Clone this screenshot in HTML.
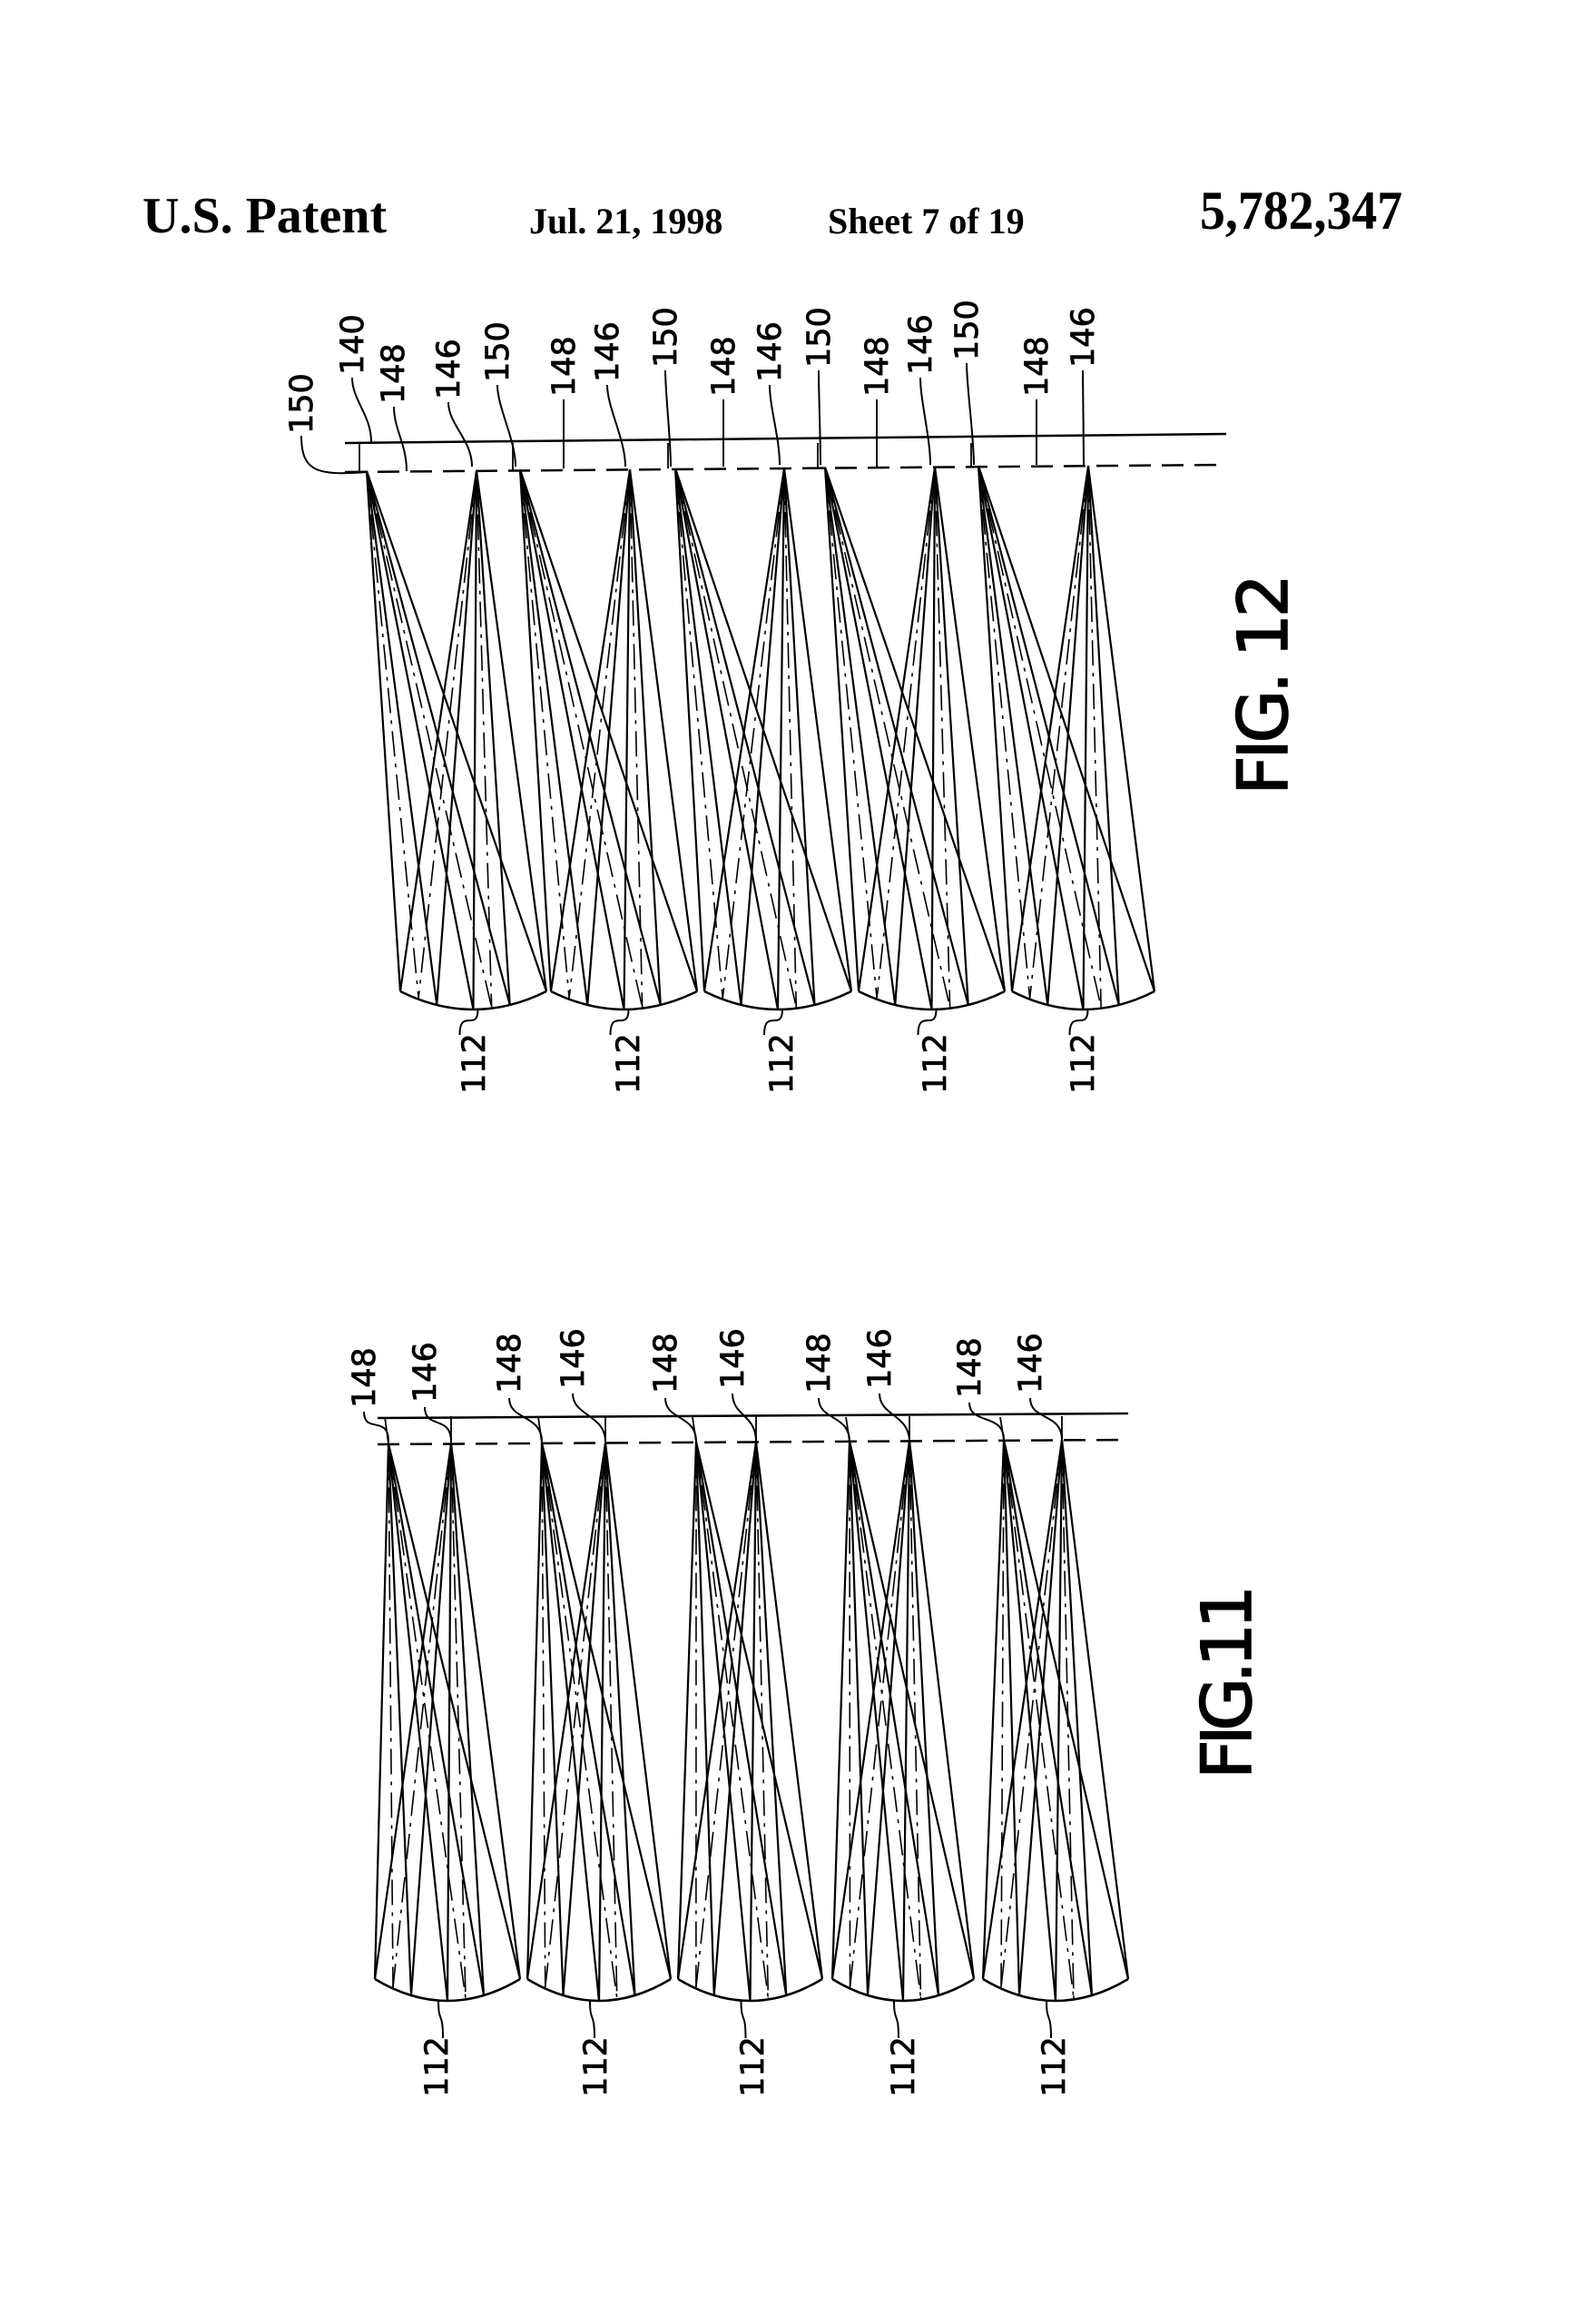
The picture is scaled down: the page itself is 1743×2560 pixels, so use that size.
<!DOCTYPE html>
<html><head><meta charset="utf-8"><style>
html,body{margin:0;padding:0;background:#fff}
body{width:1743px;height:2560px;position:relative;overflow:hidden}
.h{position:absolute;font-family:"Liberation Serif",serif;font-weight:bold;color:#000;white-space:nowrap;transform-origin:0 0}
svg{position:absolute;left:0;top:0}
svg text{font-family:"DejaVu Sans","Liberation Sans",sans-serif;fill:#000}
</style></head><body>
<div class="h" style="left:157px;top:206px;font-size:56px;transform:scaleX(1.0)">U.S. Patent</div>
<div class="h" style="left:583px;top:220px;font-size:40px;transform:scaleX(1.0)">Jul. 21, 1998</div>
<div class="h" style="left:912px;top:220px;font-size:40px;transform:scaleX(1.0)">Sheet 7 of 19</div>
<div class="h" style="left:1322px;top:198px;font-size:60px;transform:scaleX(0.93)">5,782,347</div>
<svg id="s" width="1743" height="2560" viewBox="0 0 1743 2560">
<g font-size="35" stroke="#000" stroke-width="0.8">
<text transform="translate(400,413) rotate(-90)">140</text>
<text transform="translate(445,445) rotate(-90)">148</text>
<text transform="translate(506,440) rotate(-90)">146</text>
<text transform="translate(560,421) rotate(-90)">150</text>
<text transform="translate(633,437) rotate(-90)">148</text>
<text transform="translate(681,421) rotate(-90)">146</text>
<text transform="translate(745,405) rotate(-90)">150</text>
<text transform="translate(809,437) rotate(-90)">148</text>
<text transform="translate(860,421) rotate(-90)">146</text>
<text transform="translate(914,405) rotate(-90)">150</text>
<text transform="translate(978,437) rotate(-90)">148</text>
<text transform="translate(1026,413) rotate(-90)">146</text>
<text transform="translate(1077,397) rotate(-90)">150</text>
<text transform="translate(1154,437) rotate(-90)">148</text>
<text transform="translate(1205,405) rotate(-90)">146</text>
<text transform="translate(344,478) rotate(-90)">150</text>
<text transform="translate(534,1205) rotate(-90)">112</text>
<text transform="translate(704,1205) rotate(-90)">112</text>
<text transform="translate(873,1205) rotate(-90)">112</text>
<text transform="translate(1042,1205) rotate(-90)">112</text>
<text transform="translate(1205,1205) rotate(-90)">112</text>
<text transform="translate(413,1551) rotate(-90)">148</text>
<text transform="translate(480,1545) rotate(-90)">146</text>
<text transform="translate(573,1535) rotate(-90)">148</text>
<text transform="translate(643,1530) rotate(-90)">146</text>
<text transform="translate(745,1535) rotate(-90)">148</text>
<text transform="translate(819,1530) rotate(-90)">146</text>
<text transform="translate(914,1535) rotate(-90)">148</text>
<text transform="translate(981,1530) rotate(-90)">146</text>
<text transform="translate(1080,1540) rotate(-90)">148</text>
<text transform="translate(1147,1535) rotate(-90)">146</text>
<text transform="translate(493,2310) rotate(-90)">112</text>
<text transform="translate(668,2310) rotate(-90)">112</text>
<text transform="translate(841,2310) rotate(-90)">112</text>
<text transform="translate(1007,2310) rotate(-90)">112</text>
<text transform="translate(1173,2310) rotate(-90)">112</text>
<text font-size="76" stroke-width="1.5" transform="translate(1418,876) rotate(-90)" textLength="244">FIG. 12</text>
<text font-size="76" stroke-width="1.5" transform="translate(1378,1960) rotate(-90)" textLength="214">FIG.11</text>
</g>
<g id="g" stroke="#000" fill="none" stroke-width="2.2" transform="translate(5,0)"></g>
</svg>
<script>
var g=document.getElementById('g');
function L(x1,y1,x2,y2,d,w){var e=document.createElementNS('http://www.w3.org/2000/svg','line');e.setAttribute('x1',x1);e.setAttribute('y1',y1);e.setAttribute('x2',x2);e.setAttribute('y2',y2);if(d)e.setAttribute('stroke-dasharray',d);if(w)e.setAttribute('stroke-width',w);g.appendChild(e);}
function P(d,w){var e=document.createElementNS('http://www.w3.org/2000/svg','path');e.setAttribute('d',d);if(w)e.setAttribute('stroke-width',w);g.appendChild(e);}
var DD='28 8 4 8';
function lens(xl,xr,yt,yb,srcs){
  P('M'+xl+' '+yt+' Q'+((xl+xr)/2)+' '+(2*yb-yt)+' '+xr+' '+yt,2.5);
  var pts=[];
  for(var i=0;i<=4;i++){var t=i/4;var x=(1-t)*(1-t)*xl+2*t*(1-t)*(xl+xr)/2+t*t*xr;var y=(1-t)*(1-t)*yt+2*t*(1-t)*(2*yb-yt)+t*t*yt;pts.push([x,y]);}
  srcs.forEach(function(s){
    pts.forEach(function(p){L(s[0],s[1],p[0],p[1]);});
    for(var i=0;i<4;i+=2){var a=pts[i],b=pts[i+1];L(s[0],s[1],(a[0]+b[0])/2,(a[1]+b[1])/2,DD,1.6);}
  });
}
function leader(x1,y1,x2,y2){P('M'+x1+' '+y1+' C'+x1+' '+(y1+25)+' '+x2+' '+(y2-30)+' '+x2+' '+y2,2);}
// FIG 12
L(375,488,1346,478,null,2.5);
L(375,520,1346,512,'24 12',2.5);
var f12L=[[436,597],[602,763],[771,933],[941,1102],[1110,1267]];
var s150=[399,568,739,904,1073], s146=[520,689,859,1025,1194];
for(var i=0;i<5;i++){
  var yd=520-(s146[i]-375)*8/971;
  lens(f12L[i][0],f12L[i][1],1092,1112,[[s150[i],yd],[s146[i],yd]]);
  L(s150[i]-8,488,s150[i]-8,yd,null,1.8);
  var c=(f12L[i][0]+f12L[i][1])/2;
  leader(c+5,1112,c-15,1140);
}
[[383,416,404,487],[429,448,443,519],[489,443,515,514],[543,424,563,514],[616,440,616,516],[664,424,684,514],[728,408,734,514],[792,440,792,514],[843,424,854,512],[897,408,899,512],[961,440,961,514],[1009,416,1020,512],[1060,400,1068,512],[1137,440,1137,512],[1188,408,1189,512]].forEach(function(a){leader(a[0],a[1],a[2],a[3]);});
P('M327 480 C327 520 345 524 399 520',2);
// FIG 11
L(411,1562,1238,1557,null,2.5);
L(411,1591,1238,1586,'24 12',2.5);
var f11L=[[408,568],[576,734],[742,901],[912,1068],[1078,1238]];
var s148=[423,592,762,931,1101], s146b=[492,662,828,997,1165];
for(var i=0;i<5;i++){
  var yd=1591-(s146b[i]-411)*5/827;
  lens(f11L[i][0],f11L[i][1],2180,2204,[[s148[i],yd],[s146b[i],yd]]);
  L(s148[i]-4,1561,s148[i],yd,null,1.8);L(s146b[i],1560,s146b[i],yd,null,1.8);
  var c=(f11L[i][0]+f11L[i][1])/2;
  leader(c-10,2204,c-5,2245);
}
[[396,1555,423,1588],[463,1550,492,1588],[556,1540,592,1588],[626,1535,662,1588],[728,1540,762,1588],[802,1535,828,1588],[897,1540,931,1588],[964,1535,997,1588],[1063,1545,1101,1586],[1130,1540,1165,1586]].forEach(function(a){leader(a[0],a[1],a[2],a[3]);});
</script>
</body></html>
